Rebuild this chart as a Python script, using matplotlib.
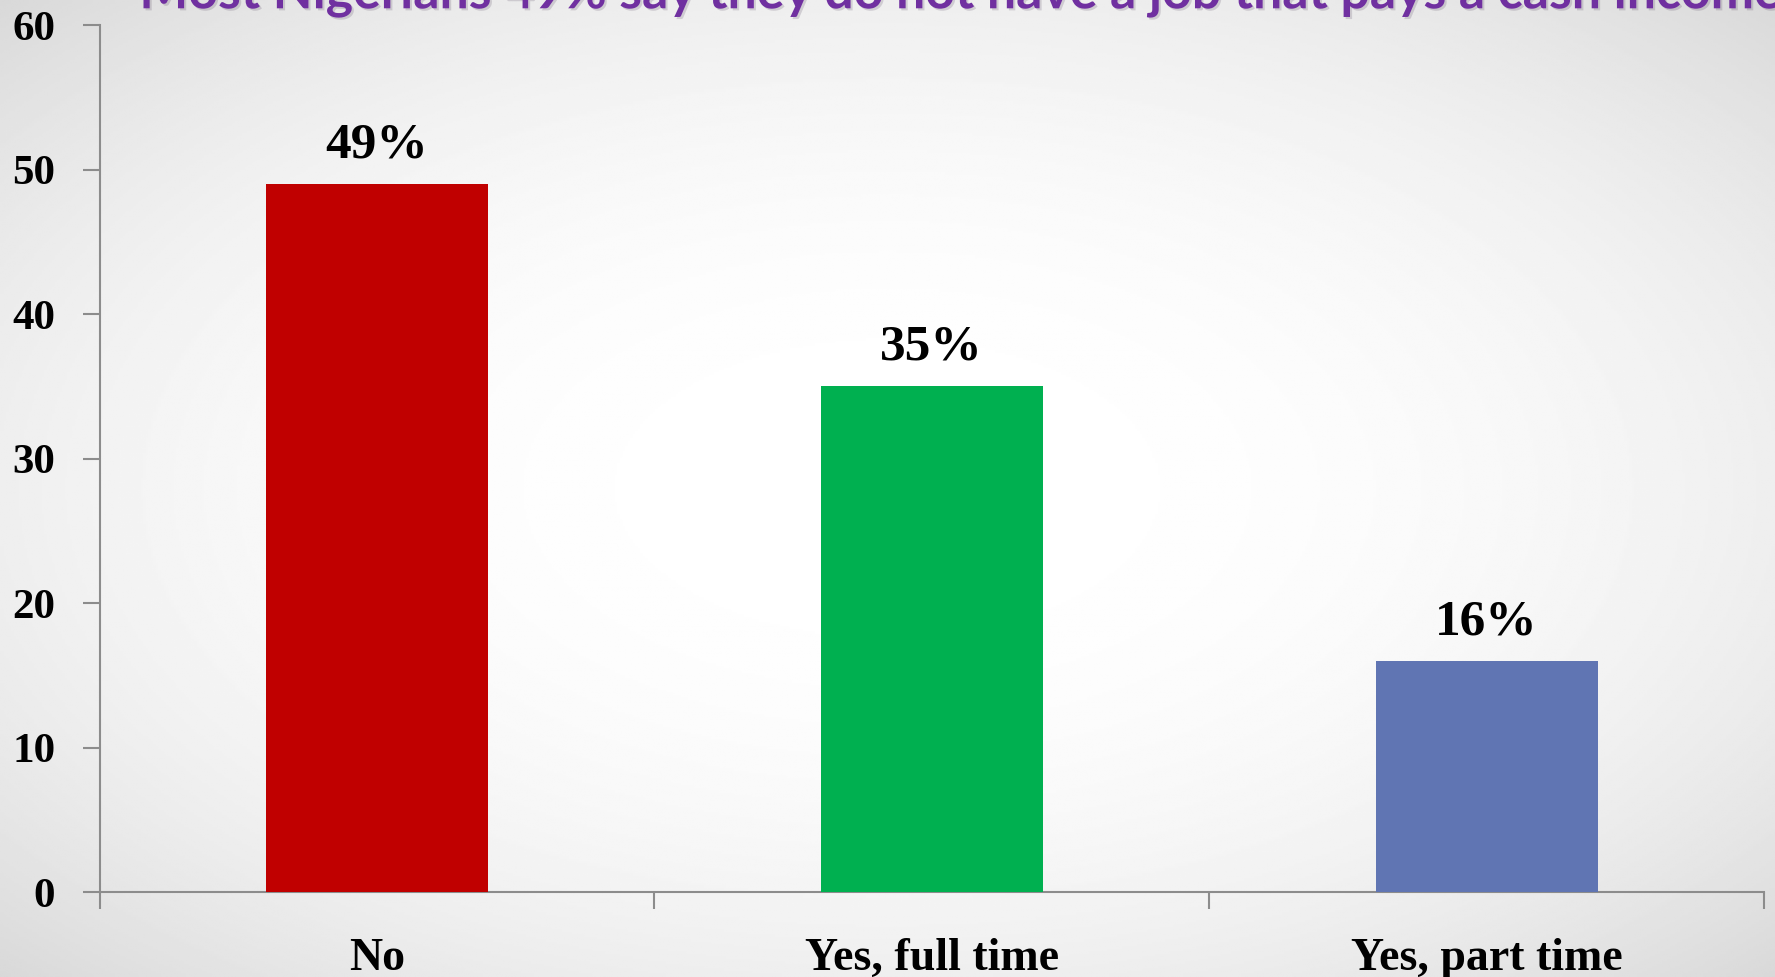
import numpy as np
import matplotlib
matplotlib.use("Agg")
import matplotlib.pyplot as plt
import matplotlib.patheffects as pe

# data
categories = ["No", "Yes, full time", "Yes, part time"]
values = [49, 35, 16]
labels = ["49%", "35%", "16%"]
bar_colors = ["#C00000", "#00B050", "#6075B3"]
yticks = [0, 10, 20, 30, 40, 50, 60]
title = "Most Nigerians 49% say they do not have a job that pays a cash income"

fig = plt.figure(figsize=(17.75, 9.77), dpi=100)

# soft radial slide background
bg = fig.add_axes([0, 0, 1, 1], zorder=-10)
yy, xx = np.mgrid[-1:1:400j, -1:1:700j]
r = np.sqrt(xx**2 + yy**2) / np.sqrt(2)
shade = 1 - 0.15 * r**2.4
bg.imshow(shade, cmap="gray", vmin=0, vmax=1, aspect="auto", extent=[0, 1, 0, 1])
bg.axis("off")

ax = fig.add_axes([0.0561, 0.087, 0.9377, 0.8874])
ax.patch.set_alpha(0)

x = np.arange(len(categories))
bars = ax.bar(x, values, width=0.4, color=bar_colors, zorder=3)

for xi, v, lab in zip(x, values, labels):
    ax.annotate(lab, (xi, v), xytext=(0, 19), textcoords="offset points",
                ha="center", va="baseline", fontsize=37, fontweight="bold",
                family="Liberation Serif", color="black")

ax.set_xlim(-0.5, len(categories) - 0.5)
ax.set_ylim(0, 60)
ax.set_yticks(yticks)
ax.set_yticklabels([str(t) for t in yticks], family="Liberation Serif",
                   fontweight="bold", fontsize=31)

# category ticks sit between groups, labels centred under bars
ax.set_xticks(np.arange(-0.5, len(categories), 1.0))
ax.set_xticklabels([])
ax.set_xticks(x, minor=True)
ax.set_xticklabels(categories, minor=True, family="Liberation Serif",
                   fontweight="bold", fontsize=33)
ax.tick_params(axis="x", which="minor", length=0, pad=33)
ax.tick_params(axis="x", which="major", length=12, width=1.5, color="#8C8C8C")
ax.tick_params(axis="y", length=12, width=1.5, color="#8C8C8C", pad=20)

for s in ["top", "right"]:
    ax.spines[s].set_visible(False)
for s in ["left", "bottom"]:
    ax.spines[s].set_color("#8C8C8C")
    ax.spines[s].set_linewidth(1.5)

# title is cut off by the top edge in the reference
fig.text(0.0785, 0.9915, title, fontsize=37.3, fontweight="bold", family="Lato",
         color="#7030A0", ha="left", va="baseline",
         path_effects=[pe.SimplePatchShadow(offset=(1.5, -1.5), alpha=0.15), pe.Normal()])

fig.savefig("out.png", dpi=100)
